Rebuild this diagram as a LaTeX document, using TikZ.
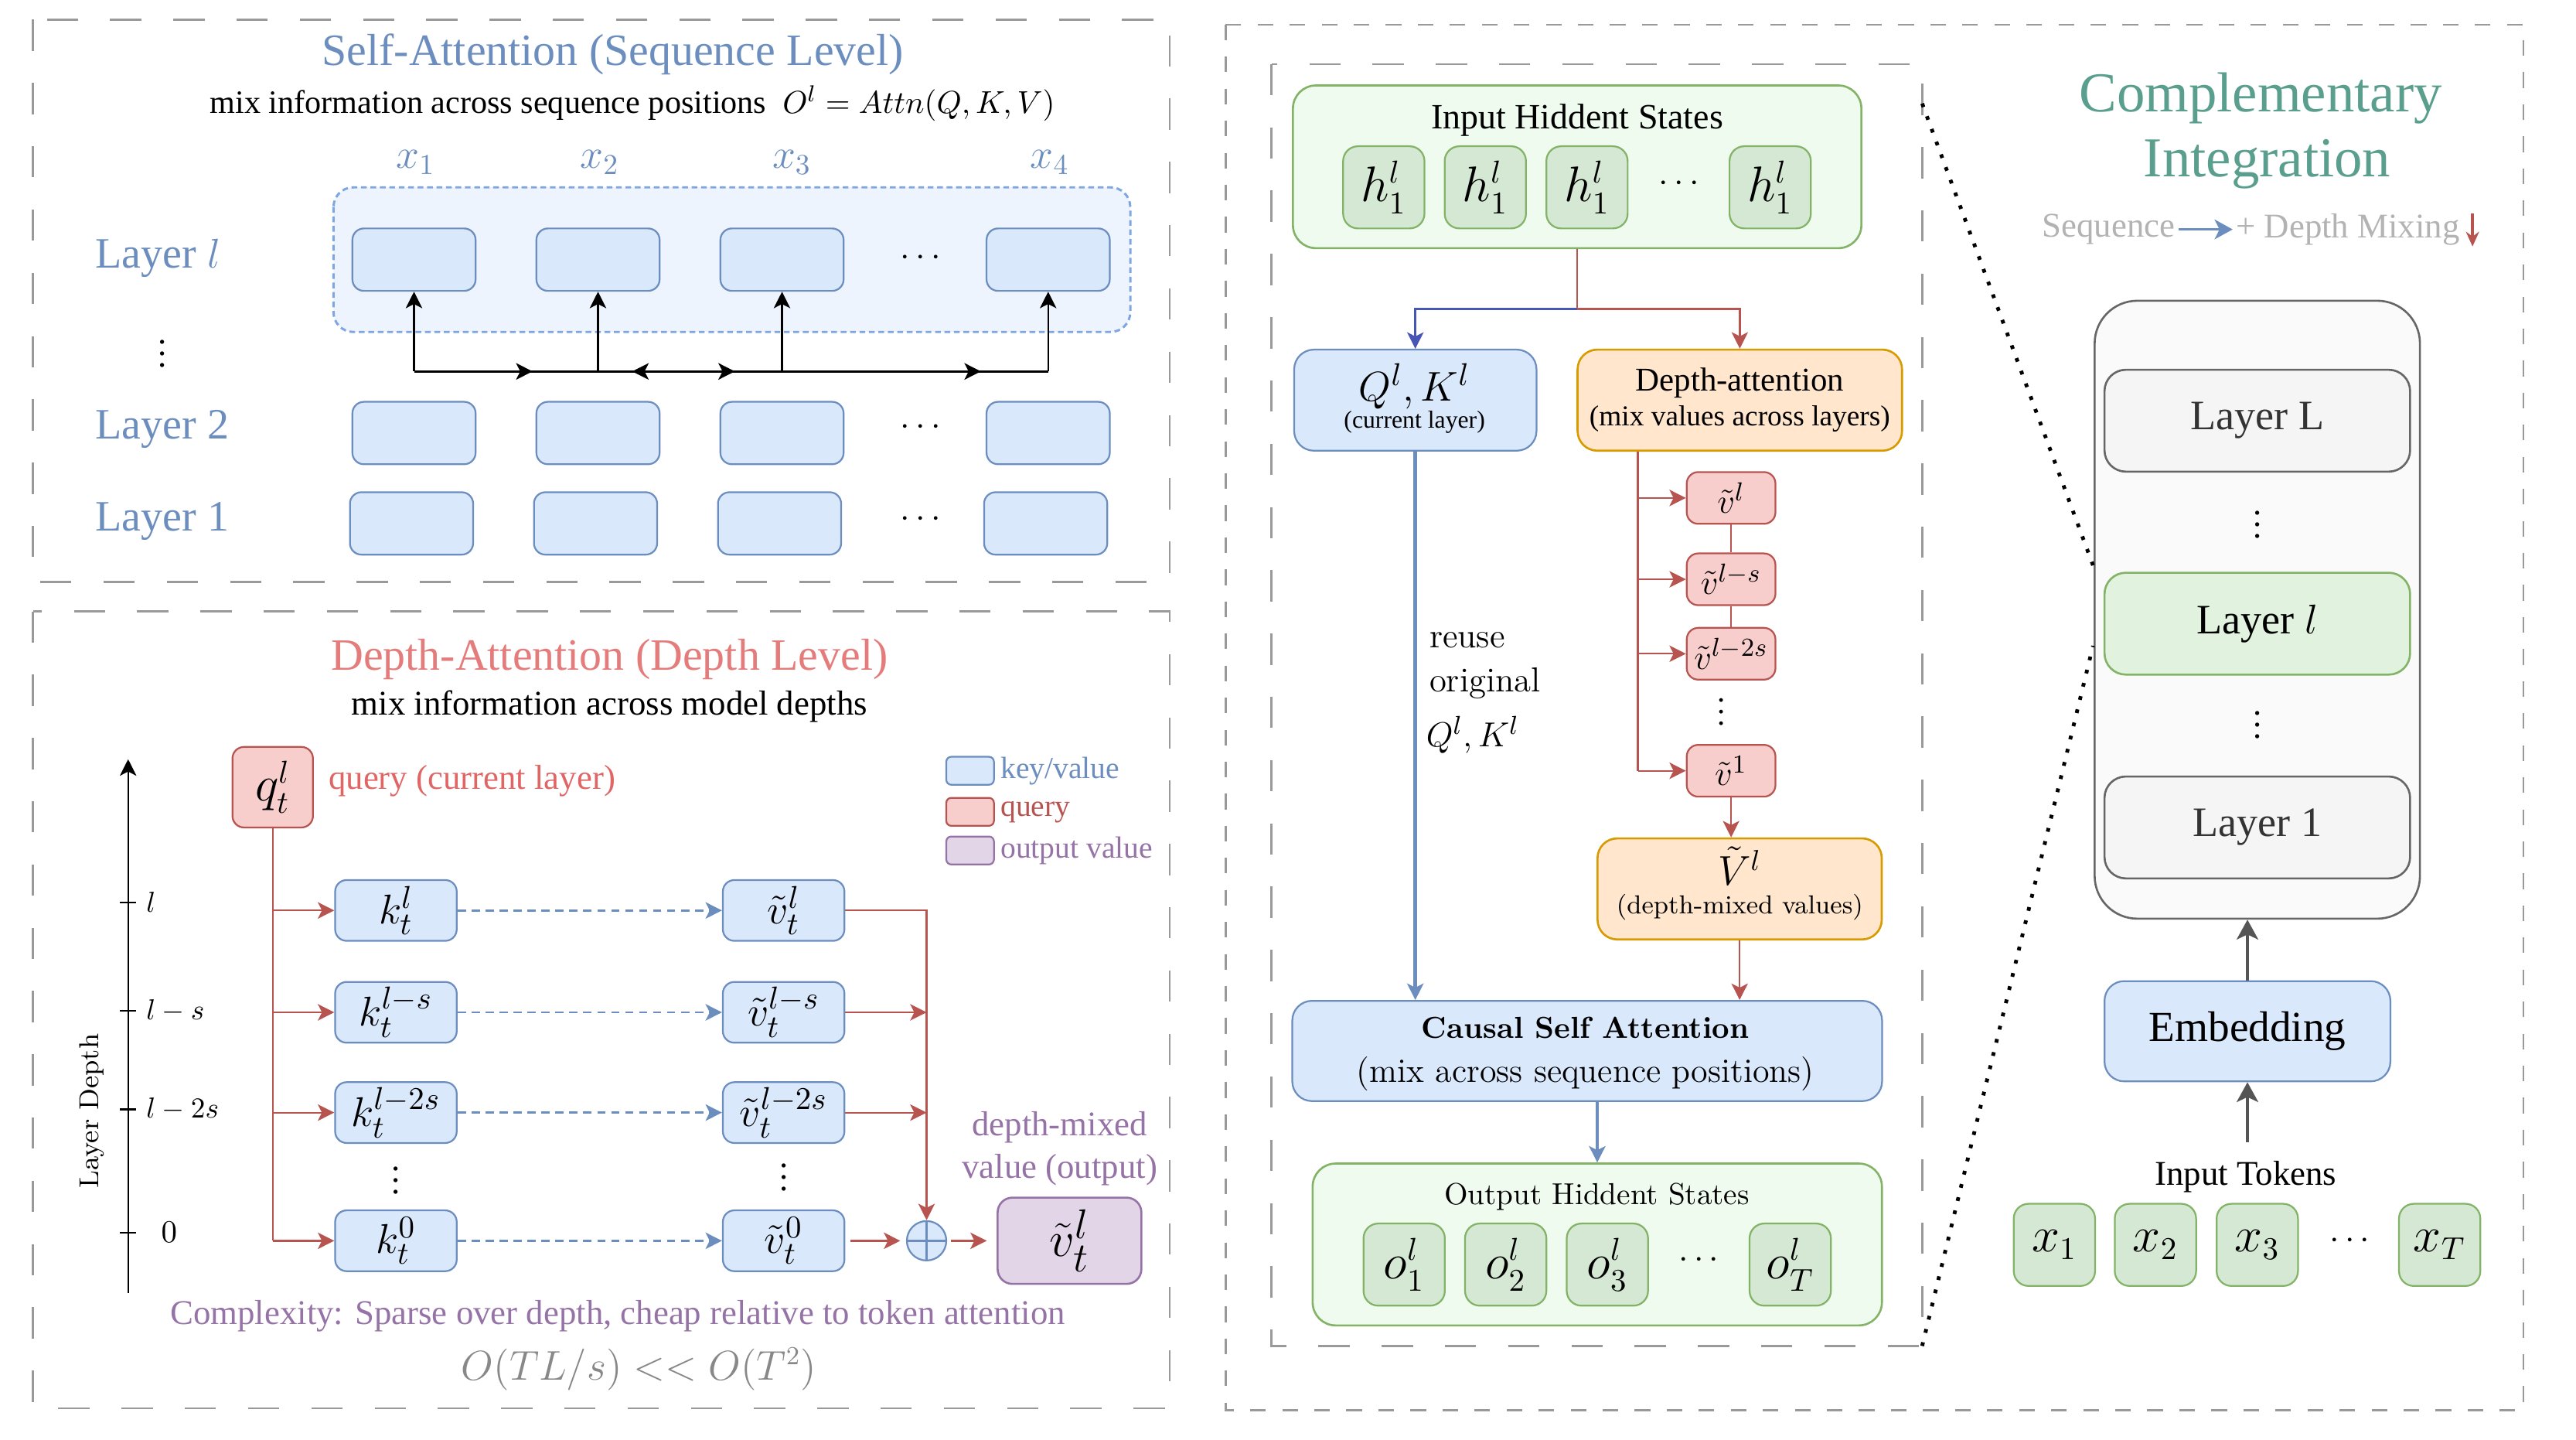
\documentclass[tikz,border=0pt]{standalone}
\usepackage{amsmath}
\usepackage[no-math]{fontspec}
\setmainfont{Liberation Serif}
\newfontfamily\cmtext{Latin Modern Roman}
\usetikzlibrary{arrows.meta,positioning,decorations.markings}

\definecolor{kvfill}{HTML}{DAE8FC}
\definecolor{kvline}{HTML}{6C8EBF}
\definecolor{qfill}{HTML}{F8CECC}
\definecolor{qline}{HTML}{B85450}
\definecolor{vofill}{HTML}{E1D5E7}
\definecolor{voline}{HTML}{9673A6}
\definecolor{hfill}{HTML}{D5E8D4}
\definecolor{hline}{HTML}{82B366}
\definecolor{hpanel}{HTML}{F0FBEF}
\definecolor{dafill}{HTML}{FFE6CC}
\definecolor{daline}{HTML}{D79B00}
\definecolor{seqband}{HTML}{EEF4FD}
\definecolor{seqdash}{HTML}{7EA6E0}
\definecolor{panelgray}{HTML}{999999}
\definecolor{qkdark}{HTML}{4756B5}
\definecolor{integteal}{HTML}{5A9E8E}
\definecolor{depthtitle}{HTML}{E57C7C}
\definecolor{querytxt}{HTML}{E06666}
\definecolor{mixgray}{HTML}{B3B3B3}
\definecolor{costgray}{HTML}{888888}
\definecolor{stackline}{HTML}{666666}
\definecolor{stackfill}{HTML}{FAFAFA}
\definecolor{layerfill}{HTML}{F5F5F5}
\definecolor{layergreen}{HTML}{E1F2DE}
\definecolor{darktext}{HTML}{333333}
\definecolor{arrowgray}{HTML}{555555}

\tikzset{
  every node/.style={inner sep=1pt},
  panel/.style={draw=panelgray,line width=0.7pt,dash pattern=on 3.8mm off 3.9mm},
  cell/.style={draw=kvline,fill=kvfill,line width=0.6pt,rounded corners=1.4mm,inner sep=0pt},
  qcell/.style={draw=qline,fill=qfill,line width=0.6pt,rounded corners=1.4mm,inner sep=0pt},
  hcell/.style={draw=hline,fill=hfill,line width=0.6pt,rounded corners=1.8mm,inner sep=0pt,
    minimum width=9.9mm,minimum height=10mm,font=\fontsize{16}{18}\selectfont},
  hpanelbox/.style={draw=hline,fill=hpanel,line width=0.7pt,rounded corners=2.8mm,inner sep=0pt},
  dabox/.style={draw=daline,fill=dafill,line width=0.7pt,rounded corners=2.4mm,inner sep=0pt},
  layerbox/.style={draw=stackline,fill=layerfill,line width=0.7pt,rounded corners=2.6mm,inner sep=0pt,
    minimum width=37.2mm,minimum height=12.4mm,text=darktext,font=\fontsize{14.5}{17}\selectfont},
  redarr/.style={->,draw=qline,line width=0.6pt},
  grayarr/.style={-{Stealth[length=2.4mm,width=2.6mm,inset=0.6mm]},draw=arrowgray,line width=1.3pt},
  ttl/.style={font=\fontsize{15.5}{18}\selectfont},
  sub/.style={font=\fontsize{12}{14}\selectfont},
}

\begin{document}
\begin{tikzpicture}[x=0.2mm,y=-0.2mm,>={Stealth[length=2mm,width=2mm,inset=0.5mm]}]
\useasboundingbox (0,0) rectangle (1568,876);

% ---------- self-attention over positions ----------
\draw[panel] (20,12) rectangle (712,354);
\node[ttl,text=kvline] (satitle) at (373,33) {Self-Attention (Sequence Level)};
\node[font=\fontsize{11.3}{13}\selectfont] (sasub) at (385,63) {mix information across sequence positions~\ $O^l = Attn(Q,K,V)$};
\draw[draw=seqdash,fill=seqband,line width=0.8pt,dash pattern=on 0.7mm off 0.45mm,rounded corners=2.4mm]
  (203,114) rectangle (688,202);
\foreach \i/\x/\lx in {1/252/253,2/364/365,3/476/482,4/638/639} {
  \node[text=kvline,font=\fontsize{14.5}{16}\selectfont] (x\i) at (\lx,99) {$x_\i$};
  \node[cell,minimum width=15mm,minimum height=7.6mm] (l\i) at (\x,158) {};
  \node[cell,minimum width=15mm,minimum height=7.6mm] (b\i) at (\x,263.5) {};
  \node[cell,minimum width=15mm,minimum height=7.6mm] (a\i) at (\x-1.5,318.5) {};
  \coordinate (j\i) at (\x,226);
  \draw[->,line width=0.6pt] (j\i) -- (l\i.south);
}
\foreach \n/\y in {lrow/157,brow/260,arow/316}
  \node[font=\fontsize{12}{14}\selectfont] (\n dots) at (562,\y) {$\cdots$};
\node[anchor=west,text=kvline,font=\fontsize{15}{18}\selectfont] (laylab) at (56,157) {Layer $l$};
\node[anchor=west,text=kvline,font=\fontsize{15}{18}\selectfont] (lay2lab) at (56,261) {Layer 2};
\node[anchor=west,text=kvline,font=\fontsize{15}{18}\selectfont] (lay1lab) at (56,317) {Layer 1};
\node[font=\fontsize{12}{14}\selectfont] (layvdots) at (99,210) {$\vdots$};
\draw[line width=0.9pt,postaction={decorate},decoration={markings,
    mark=at position 0.187 with {\arrow{>}},
    mark=at position 0.37 with {\arrow{<}},
    mark=at position 0.506 with {\arrow{>}},
    mark=at position 0.894 with {\arrow{>}}}]
  (j1) -- (j4);

% ---------- depth-attention over layers ----------
\draw[panel] (20,372) rectangle (712,857);
\node[ttl,text=depthtitle] (datitle) at (371,401) {Depth-Attention (Depth Level)};
\node[sub] (dasub) at (371,430) {mix information across model depths};

\coordinate (ax0) at (78,787);
\coordinate (ax1) at (78,462);
\draw[->,line width=0.6pt] (ax0) -- (ax1);
\foreach \y/\t in {549/$l$,615/$l-s$,675/$l-2s$,750/{}} {
  \draw[line width=0.6pt] (73,\y) -- (83,\y);
  \node[anchor=west,font=\fontsize{10}{12}\selectfont] at (87,\y) {\t};
}
\node[font=\fontsize{10.5}{12}\selectfont] (tick0) at (103,750) {$0$};
\node[rotate=90,font=\cmtext\fontsize{9.5}{11}\selectfont] (axlab) at (56,676) {Layer Depth};

\node[qcell,minimum width=9.8mm,minimum height=9.8mm,font=\fontsize{16}{18}\selectfont] (q) at (166,479) {$q_t^l$};
\node[anchor=west,text=querytxt,font=\fontsize{12}{14}\selectfont] (qlab) at (198,475) {query (current layer)};

\foreach \n/\y/\s in {kl/554/l,ks/616/l-s,k2s/677/l-2s,k0/755/0} {
  \node[cell,minimum width=14.8mm,minimum height=7.4mm,font=\fontsize{15}{17}\selectfont] (\n) at (241,\y) {$k_t^{\s}$};
  \node[cell,minimum width=14.8mm,minimum height=7.4mm,font=\fontsize{15}{17}\selectfont] (v\n) at (477,\y) {$\tilde v_t^{\s}$};
  \draw[->,draw=kvline,line width=0.7pt,dash pattern=on 1mm off 0.7mm] (\n) -- (v\n);
  \draw[redarr] (q.south |- \n.west) -- (\n.west);
}
\draw[qline,line width=0.6pt] (q.south) -- (q.south |- k0.west);
\node[font=\fontsize{12}{14}\selectfont] (kdots) at (241,713) {$\vdots$};
\node[font=\fontsize{12}{14}\selectfont] (vdots) at (477,711) {$\vdots$};

\node[circle,draw=kvline,fill=kvfill,line width=0.6pt,minimum size=4.8mm,inner sep=0pt] (sum) at (564,755) {};
\draw[kvline,line width=0.6pt] (sum.north) -- (sum.south) (sum.west) -- (sum.east);
\node[draw=voline,fill=vofill,line width=0.7pt,rounded corners=1.8mm,minimum width=17.5mm,minimum height=10.5mm,
  font=\fontsize{19}{21}\selectfont] (vout) at (651,755) {$\tilde v_t^l$};
\draw[redarr] (vkl.east) -| (sum.north);
\draw[redarr] (vks.east) -- (vks.east -| sum.north);
\draw[redarr] (vk2s.east) -- (vk2s.east -| sum.north);
\draw[redarr,shorten <=0.6mm,shorten >=0.7mm] (vk0.east) -- (sum.west);
\draw[redarr,shorten <=0.5mm,shorten >=1.2mm] (sum.east) -- (vout.west);
\node[text=voline,font=\fontsize{12}{14}\selectfont] (mixlab1) at (645,686) {depth-mixed};
\node[text=voline,font=\fontsize{12}{14}\selectfont] (mixlab2) at (645,712) {value (output)};

% legend
\foreach \i/\y/\f/\d/\t in {1/469/kvfill/kvline/{key/value},2/494/qfill/qline/{query},3/517.5/vofill/voline/{output value}} {
  \node[draw=\d,fill=\f,line width=0.6pt,minimum width=5.8mm,minimum height=3.4mm,rounded corners=0.6mm,inner sep=0pt] (lg\i) at (590.5,\y) {};
  \node[anchor=west,text=\d,font=\fontsize{10.6}{13}\selectfont] (lgt\i) at (607,\y) {\t};
}

\node[text=voline,font=\fontsize{12}{14}\selectfont] (cost) at (376,801) {Complexity: Sparse over depth, cheap relative to token attention};
\node[text=costgray,font=\fontsize{13.4}{16}\selectfont] (costeq) at (389,833) {$O(TL/s) << O(T^2)$};

% ---------- one layer: sequence + depth mixing ----------
\draw[panel,dash pattern=on 1.9mm off 2mm] (746,15) rectangle (1536,858);
\draw[panel] (774,39) rectangle (1170,819);

\node[hpanelbox,minimum width=69.2mm,minimum height=19.8mm] (hin) at (960,101.5) {};
\node[font=\fontsize{12.3}{14}\selectfont] (hintitle) at (960,73) {Input Hiddent States};
\foreach \i/\x in {1/842.3,2/904.1,3/966,4/1077.5}
  \node[hcell] (h\i) at (\x,114) {$h_1^l$};
\node[font=\fontsize{12}{14}\selectfont] (hdots) at (1023.7,112) {$\cdots$};

\node[cell,minimum width=29.5mm,minimum height=12.3mm,rounded corners=2.4mm] (qk) at (861.5,243.5) {};
\node[font=\fontsize{15.5}{18}\selectfont] (qkmath) at (861,235) {$Q^l, K^l$};
\node[font=\fontsize{8.5}{10}\selectfont] (qknote) at (861,257) {(current layer)};
\node[dabox,minimum width=39.5mm,minimum height=12.3mm] (da) at (1059,243.5) {};
\node[font=\fontsize{11.5}{14}\selectfont] (daname) at (1059,233) {Depth-attention};
\node[font=\fontsize{10}{12}\selectfont] (danote) at (1059,255) {(mix values across layers)};

\coordinate (split) at (960,188);
\draw[qline,line width=0.6pt] (hin.south) -- (split);
\draw[->,draw=qkdark,line width=0.8pt] (split) -| (qk.north);
\draw[redarr] (split) -| (da.north);

\foreach \n/\y/\s in {dvl/303/l,dvs/352.5/l-s,dv2s/397.8/l-2s,dv1/469/1}
  \node[qcell,minimum width=10.8mm,minimum height=6.3mm,font=\fontsize{13}{15}\selectfont] (\n) at (1053.7,\y) {$\tilde v^{\s}$};
\coordinate (dtrunk) at ([xshift=7.46mm]da.south west);
\draw[qline,line width=0.6pt] (dtrunk) -- (dtrunk |- dv1.west);
\foreach \n in {dvl,dvs,dv2s,dv1}
  \draw[redarr] (dtrunk |- \n.west) -- (\n.west);
\draw[qline,line width=0.6pt] (dvl) -- (dvs) (dvs) -- (dv2s);
\node[font=\fontsize{11}{13}\selectfont] (dvdots) at (1048,428) {$\vdots$};

\node[dabox,minimum width=34.6mm,minimum height=12.3mm] (vt) at (1058.9,540.9) {};
\node[font=\fontsize{14}{16}\selectfont] (vtmath) at (1059,527) {$\tilde V^l$};
\node[font=\cmtext\fontsize{9}{11}\selectfont] (vtnote) at (1059,552) {(depth-mixed values)};
\draw[redarr] (dv1.south) -- (dv1.south |- vt.north);

\node[cell,minimum width=71.8mm,minimum height=12.2mm,rounded corners=2.4mm] (csa) at (966.1,639.5) {};
\node[font=\cmtext\bfseries\fontsize{10.5}{12}\selectfont] (csaname) at (965,625.5) {Causal Self Attention};
\node[font=\cmtext\fontsize{11.8}{14}\selectfont] (csanote) at (965,653.5) {(mix across sequence positions)};
\draw[redarr] (vt.south) -- (vt.south |- csa.north);
\draw[->,draw=kvline,line width=1.2pt] (qk.south) -- (qk.south |- csa.north);
\node[anchor=west,font=\cmtext\fontsize{12}{14}\selectfont] (reuse1) at (868,389.5) {reuse};
\node[anchor=west,font=\cmtext\fontsize{12}{14}\selectfont] (reuse2) at (868,416) {original};
\node[anchor=west,font=\fontsize{12.5}{14}\selectfont] (reuse3) at (866,447) {$Q^l, K^l$};

\node[hpanelbox,minimum width=69.3mm,minimum height=19.7mm] (hout) at (972.25,757.25) {};
\node[font=\cmtext\fontsize{10.5}{12}\selectfont] (houttitle) at (972,728) {Output Hiddent States};
\draw[->,draw=kvline,line width=0.9pt] (hout.north |- csa.south) -- (hout.north);
\foreach \i/\x/\s in {1/854.7/1,2/916.5/2,3/978.4/3,4/1089.7/T}
  \node[hcell] (o\i) at (\x,769.5) {$o_{\s}^l$};
\node[font=\fontsize{12}{14}\selectfont] (odots) at (1035.8,767) {$\cdots$};

% ---------- where the layer sits in the model ----------
\node[text=integteal,font=\fontsize{19.5}{23}\selectfont] (cititle1) at (1376,60) {Complementary};
\node[text=integteal,font=\fontsize{19.5}{23}\selectfont] (cititle2) at (1380,100) {Integration};
\node[anchor=east,text=mixgray,font=\fontsize{12}{15}\selectfont] (seqtxt) at (1326,139.6) {Sequence};
\node[anchor=west,text=mixgray,font=\fontsize{12}{15}\selectfont] (deptxt) at (1359,139.6) {+ Depth Mixing};
\draw[->,draw=kvline,line width=0.9pt,>={Stealth[length=2.2mm,width=2.4mm,inset=0.6mm]}] (seqtxt.east) -- (deptxt.west);
\coordinate (mixtop) at (1505,130);
\coordinate (mixbot) at (1505,150);
\draw[->,draw=qline,line width=0.9pt,>={Stealth[length=1.8mm,width=1.6mm]}] (mixtop) -- (mixbot);

\node[draw=stackline,fill=stackfill,line width=0.7pt,rounded corners=5.2mm,minimum width=39.6mm,minimum height=75.2mm] (stack) at (1374,371) {};
\node[layerbox] (layL) at (1374,256) {Layer L};
\node[layerbox,draw=hline,fill=layergreen,text=black] (layl) at (1374,379.5) {Layer $l$};
\node[layerbox] (lay1) at (1374,503.5) {Layer 1};
\node[font=\fontsize{12}{14}\selectfont] (stdots1) at (1374,314) {$\vdots$};
\node[font=\fontsize{12}{14}\selectfont] (stdots2) at (1374,436) {$\vdots$};

\node[cell,minimum width=34.8mm,minimum height=12.2mm,rounded corners=2.4mm,font=\fontsize{14.8}{17}\selectfont] (emb) at (1368,627.5) {Embedding};
\draw[grayarr] (emb.north) -- (emb.north |- stack.south);
\node[font=\fontsize{12}{14}\selectfont] (tokens) at (1367,716) {Input Tokens};
\coordinate (tokin) at (1368,695);
\draw[grayarr] (tokin) -- (emb.south);
\foreach \i/\x/\s in {1/1250.5/1,2/1312/2,3/1374/3,4/1485/T}
  \node[hcell] (t\i) at (\x,757.5) {$x_{\s}$};
\node[font=\fontsize{12}{14}\selectfont] (tdots) at (1432,755) {$\cdots$};

% zoom lines from the layer to its detail
\coordinate (zoomtop) at (1170,63);
\coordinate (zoombot) at (1170,819);
\coordinate (zl1) at (1274,344);
\coordinate (zl2) at (1274,393);
\draw[line width=1.3pt,dash pattern=on 1.3pt off 3.4pt] (zoomtop) -- (zl1);
\draw[line width=1.3pt,dash pattern=on 1.3pt off 3.4pt] (zoombot) -- (zl2);
\end{tikzpicture}
\end{document}
